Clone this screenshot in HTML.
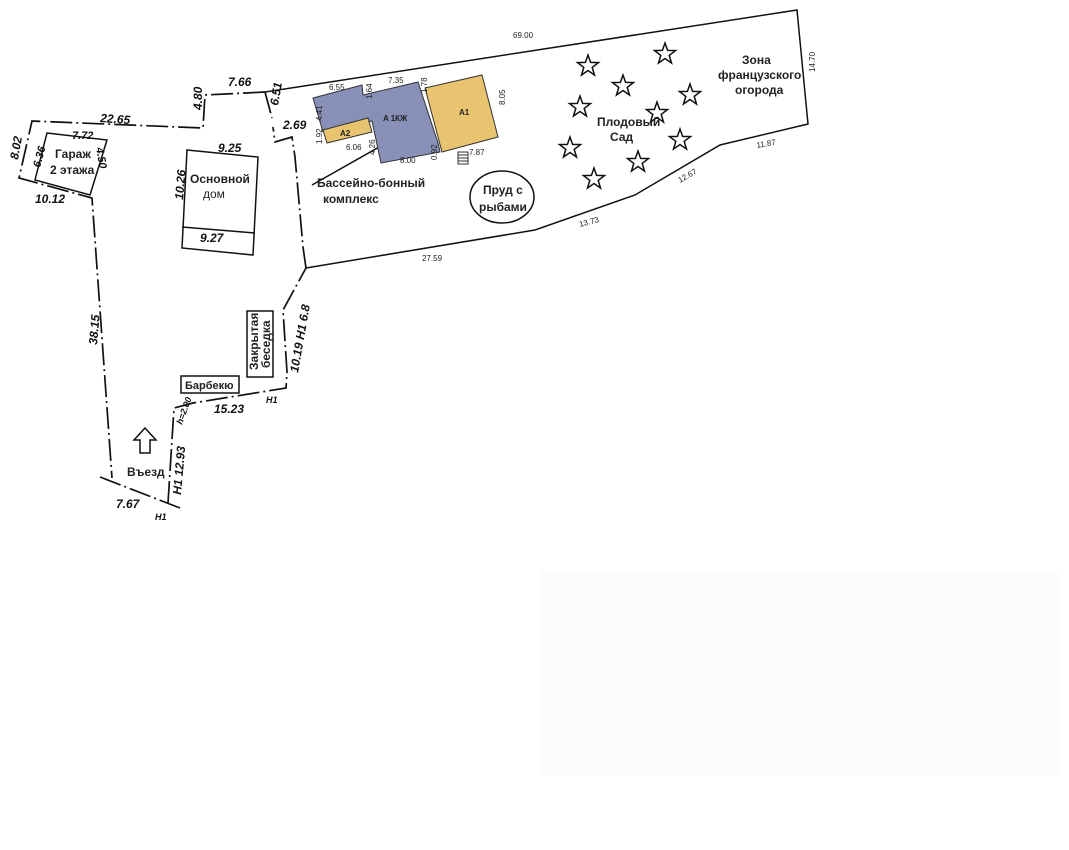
<!DOCTYPE html>
<html><head><meta charset="utf-8"><style>
html,body{margin:0;padding:0;background:#fff;}
svg{display:block;}
.t{font-family:"Liberation Sans","DejaVu Sans",sans-serif;font-size:12px;font-weight:bold;fill:#222;}
.d{font-family:"Liberation Sans",sans-serif;font-size:12px;font-style:italic;font-weight:bold;fill:#111;}
.s{font-family:"Liberation Sans",sans-serif;font-size:8px;fill:#222;}
</style></head><body>
<svg width="1069" height="850" viewBox="0 0 1069 850" xmlns="http://www.w3.org/2000/svg">
<rect width="1069" height="850" fill="#fff"/>
<rect x="540" y="570" width="522" height="205" fill="#fcfcfc"/>
<g fill="none" stroke="#111" stroke-width="1.7" stroke-dasharray="22 4 2 4">
<polyline points="265,92 205,95 203,128 32,121 19,178 92,198 112,478"/>
<polyline points="100,477 180,508"/>
<polyline points="168,503 174,408 193,403 286,388 287,372 283,310 306,268"/>
<polyline points="306,268 303,247 295,157 292,137 275,142 273,127"/>
<polyline points="265,92 272,118"/>
</g>
<g fill="none" stroke="#111" stroke-width="1.5">
<polyline points="265,92 797,10 808,124 720,145 635,195 535,230 306,268"/>
<polygon points="47,133 107,140 90,195 35,180"/>
<polygon points="187,150 258,157 253,255 182,248"/>
<line x1="182" y1="227" x2="255" y2="233"/>
<ellipse cx="502" cy="197" rx="32" ry="26"/>
<line x1="312" y1="185" x2="395" y2="138"/>
</g>
<polygon points="313,98 362,85 363,95 418,82 438,143 440,152 381,163 372,121 323,132" fill="#8890b8" stroke="#333" stroke-width="1"/>
<polygon points="323,130 368,118 372,132 327,143" fill="#e8c470" stroke="#333" stroke-width="1"/>
<polygon points="425,88 482,75 498,137 442,152" fill="#e8c470" stroke="#333" stroke-width="1"/>
<g stroke="#333" stroke-width="1"><rect x="458" y="152" width="10" height="12" fill="#fff"/>
<line x1="458" y1="155" x2="468" y2="155"/><line x1="458" y1="158" x2="468" y2="158"/><line x1="458" y1="161" x2="468" y2="161"/></g>
<g fill="#fff" stroke="#111" stroke-width="1.5">
<rect x="181" y="376" width="58" height="17"/>
<rect x="247" y="311" width="26" height="66"/>
<polygon points="140,453 150,453 150,440 156,440 145,428 134,440 140,440"/>
</g>
<g id="stars" fill="none" stroke="#111" stroke-width="1.5">
<path id="st" d="M0,-11 L2.6,-3.6 10.5,-3.4 4.2,1.4 6.5,9 0,4.5 -6.5,9 -4.2,1.4 -10.5,-3.4 -2.6,-3.6Z" transform="translate(588,66)"/>
<use href="#st" x="77" y="-12"/><use href="#st" x="35" y="20"/><use href="#st" x="-8" y="41"/>
<use href="#st" x="102" y="29"/><use href="#st" x="69" y="47"/><use href="#st" x="-18" y="82"/>
<use href="#st" x="92" y="74"/><use href="#st" x="50" y="96"/><use href="#st" x="6" y="113"/>
</g>
<text class="t" x="55" y="158">Гараж</text><text class="t" x="50" y="174">2 этажа</text>
<text class="t" x="190" y="183">Основной</text><text class="t" x="203" y="198" style="font-weight:normal">дом</text>
<text class="t" x="317" y="187">Бассейно-бонный</text><text class="t" x="323" y="203">комплекс</text>
<text class="t" x="483" y="194">Пруд с</text><text class="t" x="479" y="211">рыбами</text>
<text class="t" x="597" y="126">Плодовый</text><text class="t" x="610" y="141">Сад</text>
<text class="t" x="742" y="64">Зона</text><text class="t" x="718" y="79">французского</text><text class="t" x="735" y="94">огорода</text>
<text class="t" x="185" y="389" style="font-size:11px">Барбекю</text>
<text class="t" x="127" y="476">Въезд</text>
<text class="t" transform="translate(258,370) rotate(-90)">Закрытая</text>
<text class="t" transform="translate(270,368) rotate(-90)">беседка</text>
<text class="s" x="513" y="38">69.00</text>
<text class="s" x="422" y="261">27.59</text>
<text class="s" x="580" y="227" transform="rotate(-15 580 227)">13.73</text>
<text class="s" x="680" y="183" transform="rotate(-30 680 183)">12.67</text>
<text class="s" x="757" y="148" transform="rotate(-10 757 148)">11.87</text>
<text class="s" transform="translate(815,72) rotate(-90)">14.70</text>
<text class="s" x="329" y="90">6.55</text><text class="s" x="388" y="83">7.35</text>
<text class="s" x="346" y="150">6.06</text><text class="s" x="400" y="163">8.00</text>
<text class="s" x="469" y="155">7.87</text>
<text class="s" transform="translate(505,105) rotate(-90)">8.05</text>
<text class="s" transform="translate(372,99) rotate(-90)">1.64</text>
<text class="s" transform="translate(427,93) rotate(-90)">1.78</text>
<text class="s" transform="translate(322,121) rotate(-90)">4.41</text>
<text class="s" transform="translate(322,144) rotate(-90)">1.92</text>
<text class="s" transform="translate(375,155) rotate(-90)">4.26</text>
<text class="s" transform="translate(437,160) rotate(-90)">0.92</text>
<text class="s" x="340" y="136" font-weight="bold">A2</text>
<text class="s" x="383" y="121" font-weight="bold">A 1КЖ</text>
<text class="s" x="459" y="115" font-weight="bold">A1</text>
<text class="d" x="100" y="122" transform="rotate(4 100 122)">22.65</text>
<text class="d" x="228" y="86">7.66</text>
<text class="d" x="72" y="139" style="font-size:11px">7.72</text>
<text class="d" x="218" y="152">9.25</text>
<text class="d" x="200" y="242">9.27</text>
<text class="d" x="35" y="203">10.12</text>
<text class="d" x="283" y="129">2.69</text>
<text class="d" x="116" y="508">7.67</text>
<text class="d" x="155" y="520" style="font-size:9px">Н1</text>
<text class="d" x="214" y="413">15.23</text>
<text class="d" x="266" y="403" style="font-size:9px">Н1</text>
<text class="d" transform="translate(18,160) rotate(-80)">8.02</text>
<text class="d" transform="translate(40,168) rotate(-75)" style="font-size:11px">6.36</text>
<text class="d" transform="translate(96,148) rotate(80)" style="font-size:11px">4.50</text>
<text class="d" transform="translate(202,110) rotate(-90)">4.80</text>
<text class="d" transform="translate(278,106) rotate(-80)">6.51</text>
<text class="d" transform="translate(183,200) rotate(-85)">10.26</text>
<text class="d" transform="translate(97,345) rotate(-85)">38.15</text>
<text class="d" transform="translate(181,495) rotate(-85)">Н1 12.93</text>
<text class="d" transform="translate(182,425) rotate(-70)" style="font-size:9px">h=2.00</text>
<text class="d" transform="translate(298,373) rotate(-80)">10.19 Н1 6.8</text>
</svg>
</body></html>
